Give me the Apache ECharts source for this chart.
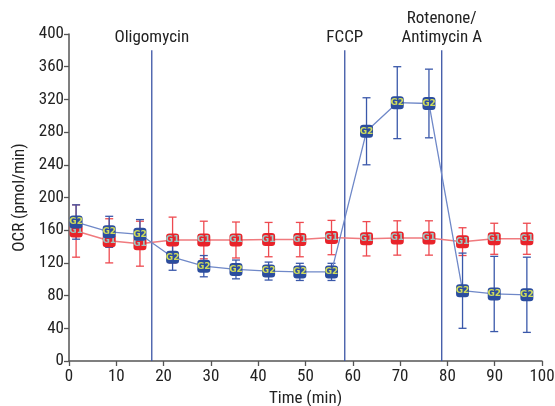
<!DOCTYPE html>
<html><head><meta charset="utf-8">
<script src="https://cdn.jsdelivr.net/npm/echarts@6/dist/echarts.min.js"></script>
<style>html,body{margin:0;padding:0;background:#fff}#c{width:555px;height:406px}</style>
</head><body><div id="c"></div>
<script>
var times = [1.5, 8.5, 15, 21.9, 28.5, 35.3, 42.2, 48.8, 55.5, 62.9, 69.4, 76.1, 83.2, 89.9, 96.8];
var g1Mean = [159, 147, 143.5, 148, 148, 148, 148.5, 148.5, 151, 149.5, 150.5, 150.5, 146, 149.5, 149.5];
var g1Err  = [32, 27, 27.5, 28, 23, 22, 21, 21, 21, 21, 21, 21, 17, 19, 19];
var g2Mean = [170, 158, 155, 127, 116, 112, 110, 109, 109, 281, 316, 315, 86, 82, 81];
var g2Err  = [21, 19, 18, 16, 13, 11.5, 11, 10.5, 10.5, 41, 44, 42, 46, 46, 46];
var eventTimes = [17.5, 58.3, 78.8];
var eventLabels = ['Oligomycin', 'FCCP', 'Rotenone/\nAntimycin A'];
var eventTop = 380;
var xTicks = [0, 10, 20, 30, 40, 50, 60, 70, 80, 90, 100];
var yTicks = [0, 40, 80, 120, 160, 200, 240, 280, 320, 360, 400];

var FONT = '"Liberation Sans Narrow", "Arial Narrow", "Roboto Condensed", sans-serif';
var chart = echarts.init(document.getElementById('c'));

function pts(m){ return times.map(function(t,i){ return [t, m[i]]; }); }
function errData(m,e){ return times.map(function(t,i){ return [t, m[i]-e[i], m[i]+e[i]]; }); }
function errSeries(m,e,color,cap){
  return {
    type:'custom', data: errData(m,e), z: 3,
    renderItem: function(params, api){
      var x = api.value(0);
      var lo = api.coord([x, api.value(1)]);
      var hi = api.coord([x, api.value(2)]);
      var st = {stroke: color, lineWidth: 1.3};
      return {type:'group', children:[
        {type:'line', shape:{x1:lo[0],y1:lo[1],x2:hi[0],y2:hi[1]}, style:st},
        {type:'line', shape:{x1:lo[0]-cap,y1:lo[1],x2:lo[0]+cap,y2:lo[1]}, style:st},
        {type:'line', shape:{x1:hi[0]-cap,y1:hi[1],x2:hi[0]+cap,y2:hi[1]}, style:st}
      ]};
    }
  };
}

var option = {
  animation:false,
  grid:{left:69, right:13, top:34, bottom:45, containLabel:false, outerBoundsMode:'none'},
  xAxis:{
    type:'value', min:0, max:100, interval:10,
    name:'Time (min)', nameLocation:'middle', nameGap:28,
    nameTextStyle:{fontFamily:FONT, fontSize:17, color:'#222'},
    axisLine:{show:true, lineStyle:{color:'#555', width:1.5}},
    axisTick:{show:true, length:5, lineStyle:{color:'#555', width:1.3}},
    axisLabel:{fontFamily:FONT, fontSize:17, color:'#222', margin:7,
      formatter:function(v){ return xTicks.indexOf(v)>=0 ? String(v) : ''; }},
    splitLine:{show:false}
  },
  yAxis:{
    type:'value', min:0, max:400, interval:40,
    name:'OCR (pmol/min)', nameLocation:'middle', nameGap:41, nameRotate:90,
    nameTextStyle:{fontFamily:FONT, fontSize:17, color:'#222'},
    axisLine:{show:true, lineStyle:{color:'#555', width:1.5}},
    axisTick:{show:true, length:5, lineStyle:{color:'#555', width:1.3}},
    axisLabel:{fontFamily:FONT, fontSize:17, color:'#222', margin:5,
      formatter:function(v){ return yTicks.indexOf(v)>=0 ? String(v) : ''; }},
    splitLine:{show:false}
  },
  series:[
    {
      type:'custom', data: eventTimes.map(function(t,i){ return [t, eventTop, i]; }), z:2,
      renderItem:function(params, api){
        var x = api.value(0);
        var b = api.coord([x, 0]);
        var t = api.coord([x, api.value(1)]);
        return {type:'group', children:[
          {type:'line', shape:{x1:b[0],y1:b[1],x2:t[0],y2:t[1]}, style:{stroke:'#3b54a5', lineWidth:1.3}},
          {type:'text', x:t[0], y:t[1]-3, style:{text:eventLabels[api.value(2)], textAlign:'center', textVerticalAlign:'bottom',
            fontFamily:FONT, fontSize:17, fill:'#222', lineHeight:19}}
        ]};
      }
    },
    errSeries(g1Mean, g1Err, '#ee4a50', 4),
    {
      type:'line', data: pts(g1Mean), z:4,
      lineStyle:{color:'#f07a7e', width:1.5},
      symbol:'roundRect', symbolSize:13,
      itemStyle:{color:'#e8232a'},
      label:{show:true, position:'inside', formatter:'G1', fontSize:9, fontWeight:'bold', color:'#9cc7c4', fontFamily:'DejaVu Sans'}
    },
    errSeries(g2Mean, g2Err, '#3a58aa', 4),
    {
      type:'line', data: pts(g2Mean), z:5,
      lineStyle:{color:'#6f88c8', width:1.3},
      symbol:'roundRect', symbolSize:13,
      itemStyle:{color:'#2b4d9e'},
      label:{show:true, position:'inside', formatter:'G2', fontSize:9, fontWeight:'bold', color:'#cfdc5a', fontFamily:'DejaVu Sans'}
    }
  ]
};
chart.setOption(option);
</script></body></html>
